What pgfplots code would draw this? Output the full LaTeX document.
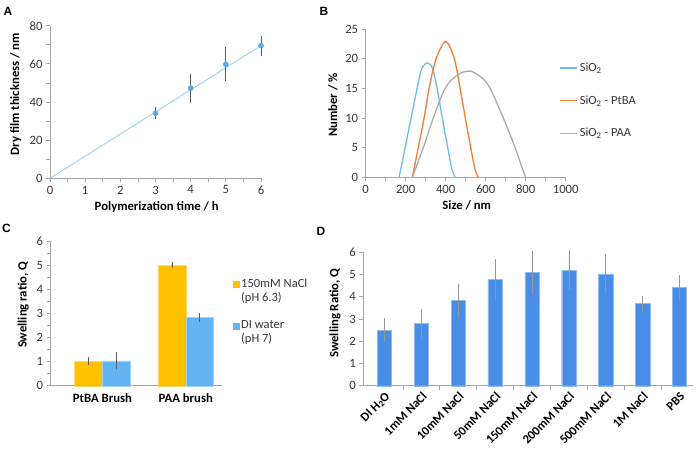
\documentclass[border=0pt]{standalone}
\usepackage{pgfplots}
\pgfplotsset{compat=1.18}
\usepackage{fontspec}
\setmainfont{Carlito}
\newfontfamily\panelfont{Liberation Sans}
\definecolor{axgray}{RGB}{165,165,165}
\definecolor{labgray}{RGB}{55,55,55}
\definecolor{aline}{RGB}{150,210,245}
\definecolor{amark}{RGB}{85,170,235}
\definecolor{errgray}{RGB}{90,90,90}
\definecolor{bblue}{RGB}{110,188,235}
\definecolor{borange}{RGB}{240,125,50}
\definecolor{bgray}{RGB}{170,170,170}
\definecolor{corange}{RGB}{255,192,0}
\definecolor{cblue}{RGB}{100,180,245}
\definecolor{dblue}{RGB}{72,142,230}
\definecolor{derr}{RGB}{150,150,150}
\pgfplotsset{
 excel/.style={scale only axis, anchor=south west,
   axis x line*=bottom, axis y line*=left,
   axis line style={draw=axgray, line width=0.8pt},
   tick style={draw=axgray, line width=0.8pt},
   tick align=outside, major tick length=4pt, minor tick length=4pt,
   tick label style={font=\fontsize{12.7}{14}\selectfont, text=labgray},
   label style={font=\bfseries\fontsize{12.7}{14}\selectfont},
   /pgf/number format/assume math mode=true,
   /pgf/number format/1000 sep={},
   xlabel style={anchor=center}, ylabel style={anchor=center},
   clip=false},
}
\begin{document}
\begin{tikzpicture}
\useasboundingbox (0,0) rectangle (700pt,448pt);
% ---------- A ----------
\begin{axis}[excel, at={(50pt,269.7pt)}, width=211pt, height=152.6pt,
  xmin=0, xmax=6, ymin=0, ymax=80,
  xtick={0,...,6}, ytick={0,20,...,80},
  minor x tick num=1, minor y tick num=1,
  xlabel={Polymerization time / h}, ylabel={Dry film thickness / nm},
  xlabel style={at={(axis description cs:0.506,-0.19)}},
  ylabel style={at={(axis description cs:-0.163,0.552)}}]
\addplot[aline, line width=0.9pt] coordinates {(0,0) (6,69.6)};
\addplot[only marks, mark=*, mark size=2.6pt, color=amark,
  error bars/.cd, y dir=both, y explicit,
  error bar style={errgray, line width=0.7pt},
  error mark options={errgray, mark size=2.2pt, line width=0.7pt}]
  coordinates {(3,34.1) +- (0,2.1) (4,47.2) +- (0,6.5) (5,59.8) +- (0,7.7) (6,69.5) +- (0,4.0)};
\end{axis}
% ---------- B ----------
\begin{axis}[excel, at={(365.7pt,270.7pt)}, width=200pt, height=148.3pt,
  xmin=0, xmax=1000, ymin=0, ymax=25,
  xtick={0,200,...,1000}, ytick={0,5,...,25}, minor x tick num=1,
  xlabel={Size / nm}, ylabel={Number / \%},
  xlabel style={at={(axis description cs:0.505,-0.189)}},
  ylabel style={at={(axis description cs:-0.1635,0.4875)}},
  legend image code/.code={\draw[#1] (0pt,0pt) -- (17pt,0pt);},
  legend style={at={(rel axis cs:0.968,0.785)}, anchor=north west, draw=none, fill=none,
    font=\fontsize{12.5}{14}\selectfont, text=labgray, row sep=18.5pt, inner sep=0pt,
    cells={anchor=west}}]
\addplot[bblue, line width=1.3pt, smooth, tension=0.5] coordinates {
 (167,0) (197,5) (227,10) (257,15) (280,18.3) (310,19.3) (335,18.3) (357,15) (383,10) (410,5) (430,1.5) (447,0)};
\addlegendentry{SiO\textsubscript{2}}
\addplot[borange, line width=1.3pt, smooth, tension=0.5] coordinates {
 (233,0) (263,5) (292,10) (317,15) (352,20) (400,22.9) (443,20) (472,15) (498,10) (525,5) (547,1.3) (563,0)};
\addlegendentry{SiO\textsubscript{2} - PtBA}
\addplot[bgray, line width=1.3pt, smooth, tension=0.5] coordinates {
 (233,0) (288,5) (338,10) (397,15) (460,17.3) (522,17.9) (580,16.8) (622,15) (688,10) (747,5) (780,1.8) (800,0)};
\addlegendentry{SiO\textsubscript{2} - PAA}
\end{axis}
% ---------- C ----------
\begin{axis}[excel, at={(50.7pt,62.3pt)}, width=171pt, height=144.7pt,
  xmin=0.38, xmax=2.43, ymin=0, ymax=6,
  ybar, bar width=27.8pt,
  xtick={1,2}, xticklabels={PtBA Brush, PAA brush},
  xticklabel style={font=\bfseries\fontsize{12.7}{14}\selectfont, text=black},
  major x tick style={draw=none},
  ytick={0,...,6}, minor y tick num=1,
  ylabel={Swelling ratio, Q},
  ylabel style={at={(axis description cs:-0.16,0.558)}},
  legend image code/.code={\fill[#1] (0pt,-3.5pt) rectangle (7pt,3.5pt);},
  legend style={at={(rel axis cs:1.066,0.745)}, anchor=north west, draw=none, fill=none,
    font=\fontsize{12.5}{14}\selectfont, text=labgray, row sep=0pt, inner sep=0pt,
    nodes={inner sep=1pt, text height=8.5pt, text depth=3.2pt},
    cells={anchor=west}}]
\addplot[forget plot, bar shift=-13.9pt, fill=corange, draw=corange!60!white, line width=0.4pt,
  error bars/.cd, y dir=both, y explicit,
  error bar style={errgray, line width=0.6pt},
  error mark options={errgray, mark size=2pt, line width=0.6pt}]
  coordinates {(1,1.01) +- (0,0.08) (2,5.0) +- (0,0.05)};
\addplot[forget plot, bar shift=13.9pt, fill=cblue, draw=cblue!60!white, line width=0.4pt,
  error bars/.cd, y dir=both, y explicit,
  error bar style={errgray, line width=0.6pt},
  error mark options={errgray, mark size=2pt, line width=0.6pt}]
  coordinates {(1,1.03) +- (0,0.27) (2,2.83) +- (0,0.1)};
\addlegendimage{fill=corange, draw=none}
\addlegendentry{150mM NaCl}
\addlegendimage{empty legend}
\addlegendentry{(pH 6.3)}
\addlegendimage{empty legend}
\addlegendentry{}
\addlegendimage{fill=cblue, draw=none}
\addlegendentry{DI water}
\addlegendimage{empty legend}
\addlegendentry{(pH 7)}
\end{axis}
% ---------- D ----------
\begin{axis}[excel, at={(363.3pt,62.3pt)}, width=329.7pt, height=133.4pt,
  xmin=0.425, xmax=9.366, ymin=0, ymax=6,
  ybar, bar width=14.3pt,
  xtick={1,...,9},
  xticklabels={DI H\textsubscript{2}O, 1mM NaCl, 10mM NaCl, 50mM NaCl, 150mM NaCl, 200mM NaCl, 500mM NaCl, 1M NaCl, PBS},
  xticklabel style={rotate=45, anchor=north east, inner sep=1pt,
    font=\bfseries\fontsize{12.5}{14}\selectfont, text=black},
  minor xtick={1.5,2.5,...,8.5},
  major x tick style={draw=none},
  ytick={0,...,6},
  ylabel={Swelling Ratio, Q},
  ylabel style={at={(axis description cs:-0.086,0.543)}}]
\addplot[fill=dblue, draw=dblue!60!white, line width=0.4pt,
  error bars/.cd, y dir=both, y explicit,
  error bar style={derr, line width=0.6pt},
  error mark options={derr, mark size=1.8pt, line width=0.6pt}]
  coordinates {(1,2.5) +- (0,0.47) (2,2.79) +- (0,0.58) (3,3.83) +- (0,0.67)
   (4,4.79) +- (0,0.81) (5,5.09) +- (0,0.88) (6,5.19) +- (0,0.82)
   (7,5.03) +- (0,0.8) (8,3.69) +- (0,0.28) (9,4.43) +- (0,0.47)};
\end{axis}
% ---------- panel letters ----------
\node[font=\panelfont\bfseries\fontsize{12}{14}\selectfont] at (8pt,436.5pt) {A};
\node[font=\panelfont\bfseries\fontsize{12}{14}\selectfont] at (324pt,436.5pt) {B};
\node[font=\panelfont\bfseries\fontsize{12}{14}\selectfont] at (6.5pt,219.3pt) {C};
\node[font=\panelfont\bfseries\fontsize{12}{14}\selectfont] at (321pt,217pt) {D};
\end{tikzpicture}
\end{document}
